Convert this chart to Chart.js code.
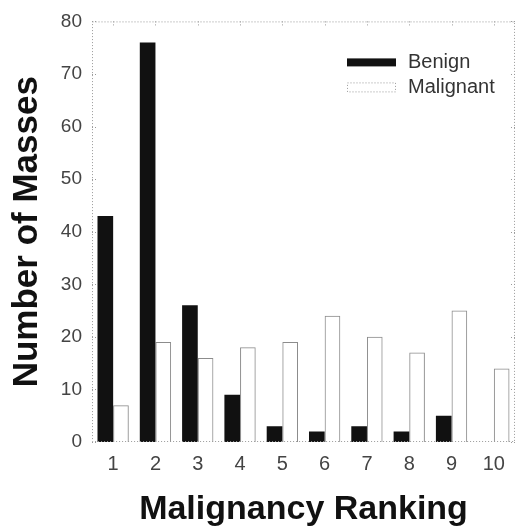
<!DOCTYPE html>
<html>
<head>
<meta charset="utf-8">
<script src="https://cdn.jsdelivr.net/npm/chart.js@4/dist/chart.umd.min.js"></script>
<style>
  html, body { margin: 0; padding: 0; background: #fff; }
  #wrap { width: 519px; height: 527px; }
</style>
</head>
<body>
<div id="wrap"><canvas id="c" width="519" height="527"></canvas></div>
<script>
// Malignancy ranking histogram: counts of benign vs malignant masses
const rankings = ['1', '2', '3', '4', '5', '6', '7', '8', '9', '10'];
const benign = [43, 76, 26, 9, 3, 2, 3, 2, 5, 0];
const malignant = [7, 19, 16, 18, 19, 24, 20, 17, 25, 14];
const yTicks = [0, 10, 20, 30, 40, 50, 60, 70, 80];

const FONT = '"Liberation Sans", Arial, Helvetica, sans-serif';

// Dotted frame, inward tick marks and the in-plot legend
const framePlugin = {
  id: 'frame',
  afterDraw(chart) {
    const { ctx, chartArea: a, scales } = chart;
    ctx.save();
    ctx.strokeStyle = '#9a9a9a';
    ctx.lineWidth = 1;
    ctx.setLineDash([1, 2]);
    ctx.strokeRect(a.left + 0.5, a.top + 0.5, a.right - a.left - 1, a.bottom - a.top - 1);
    // y ticks on both sides
    yTicks.forEach(v => {
      const y = Math.round(scales.y.getPixelForValue(v)) + 0.5;
      ctx.beginPath();
      ctx.moveTo(a.left, y); ctx.lineTo(a.left + 6, y);
      ctx.moveTo(a.right, y); ctx.lineTo(a.right - 6, y);
      ctx.stroke();
    });
    // x ticks on the top edge
    rankings.forEach((_, i) => {
      const x = Math.round(scales.x.getPixelForValue(i)) + 0.5;
      ctx.beginPath();
      ctx.moveTo(x, a.top); ctx.lineTo(x, a.top + 6);
      ctx.stroke();
    });
    ctx.setLineDash([]);

    // legend
    const lx = a.left + 255, ly = a.top + 41;
    chart.data.datasets.forEach((ds, i) => {
      const y = ly + i * 25;
      if (ds.backgroundColor !== 'rgba(0,0,0,0)') {
        ctx.fillStyle = ds.backgroundColor;
        ctx.fillRect(lx, y - 4, 49, 8);
      } else {
        ctx.strokeStyle = '#9a9a9a';
        ctx.setLineDash([1, 2]);
        ctx.strokeRect(lx + 0.5, y - 4.5, 48, 9);
        ctx.setLineDash([]);
      }
      ctx.fillStyle = '#333';
      ctx.font = '20px ' + FONT;
      ctx.textBaseline = 'middle';
      ctx.textAlign = 'left';
      ctx.fillText(ds.label, lx + 61, y);
    });
    ctx.restore();
  }
};

new Chart(document.getElementById('c'), {
  type: 'bar',
  data: {
    labels: rankings,
    datasets: [
      {
        label: 'Benign',
        data: benign,
        backgroundColor: '#111111',
        borderWidth: 0,
        categoryPercentage: 0.74,
        barPercentage: 1.0
      },
      {
        label: 'Malignant',
        data: malignant,
        backgroundColor: 'rgba(0,0,0,0)',
        borderColor: '#8c8c8c',
        borderWidth: 1,
        borderDash: [1, 2],
        categoryPercentage: 0.74,
        barPercentage: 1.0
      }
    ]
  },
  options: {
    responsive: false,
    animation: false,
    layout: { padding: { top: 18, right: 4, left: 0, bottom: 0 } },
    plugins: { legend: { display: false }, tooltip: { enabled: false } },
    datasets: { bar: { borderSkipped: 'bottom' } },
    scales: {
      x: {
        grid: { display: false, drawTicks: false },
        border: { display: false },
        ticks: { color: '#444', font: { family: FONT, size: 20 }, padding: 10 },
        title: {
          display: true,
          text: 'Malignancy Ranking',
          color: '#111',
          font: { family: FONT, size: 34, weight: 'bold', lineHeight: 1.0 },
          padding: { top: 0, bottom: 0 }
        },
        afterFit(s) { s.height = 85; }
      },
      y: {
        min: 0,
        max: 80,
        grid: { display: false, drawTicks: false },
        border: { display: false },
        afterBuildTicks(s) { s.ticks = yTicks.map(v => ({ value: v })); },
        ticks: { color: '#444', font: { family: FONT, size: 19 }, padding: 10 },
        title: {
          display: true,
          text: 'Number of Masses',
          color: '#111',
          font: { family: FONT, size: 35, weight: 'bold', lineHeight: 1.0 },
          padding: { top: 10, bottom: 0 }
        },
        afterFit(s) { s.width = 92; }
      }
    }
  },
  plugins: [framePlugin]
});
</script>
</body>
</html>
